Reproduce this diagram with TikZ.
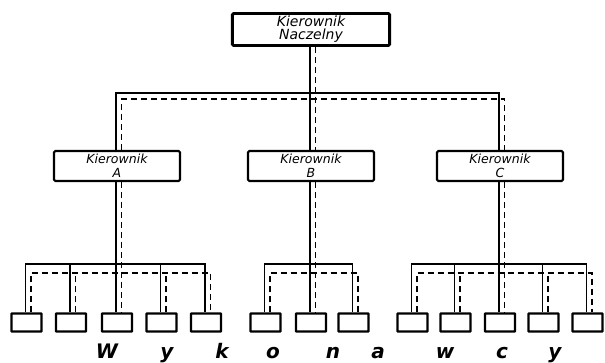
\documentclass[tikz,border=0pt]{standalone}
\usepackage{fontspec}
\newfontfamily\handfont{DejaVu Sans}
\usetikzlibrary{positioning, calc}
\tikzset{
  chief/.style={draw, line width=2.2pt, rounded corners=1pt, minimum width=118pt, minimum height=24pt, inner sep=0pt, align=center, font=\handfont\itshape\fontsize{10.5}{9.8}\selectfont},
  head/.style={draw, line width=1.6pt, rounded corners=1pt, minimum width=94.5pt, minimum height=22.5pt, inner sep=0pt, align=center, font=\handfont\itshape\fontsize{9.4}{10.3}\selectfont},
  worker/.style={draw, line width=1.8pt, rounded corners=0.5pt, minimum width=22.5pt, minimum height=13.5pt, inner sep=0pt},
  link/.style={line width=1.1pt},
  dlink/.style={line width=1.1pt, dash pattern=on 4.5pt off 3pt},
  letter/.style={font=\handfont\itshape\bfseries\fontsize{15}{15}\selectfont, inner sep=0pt, anchor=base}
}
\begin{document}
\begin{tikzpicture}[x=0.75pt, y=-0.75pt]
  \useasboundingbox (0,0) rectangle (605,362);

  % Managers
  \node[chief] (naczelny) at (311,29.5) {Kierownik\\Naczelny};
  \node[head] (kierA) at (117,166) {Kierownik\\A};
  \node[head] (kierB) at (311,166) {Kierownik\\B};
  \node[head] (kierC) at (500,166) {Kierownik\\C};

  % Workers
  \foreach \n/\x in {wA1/26.5, wA2/71, wA3/117, wA4/161.5, wA5/206,
                     wB1/265.5, wB2/311, wB3/353.5,
                     wC1/412.5, wC2/455.5, wC3/500, wC4/543.5, wC5/587.5}
    \node[worker] (\n) at (\x,322.5) {};

  % Bus levels
  \coordinate (topS) at (0,93);
  \coordinate (topD) at (0,99);
  \coordinate (busS) at (0,264);
  \coordinate (busD) at (0,273);

  % Top level
  \draw[link] ($(naczelny.south)+(-1,0)$) -- ($(kierB.north)+(-1,0)$);
  \draw[dlink] ($(naczelny.south)+(4.5,0)$) -- ($(kierB.north)+(4.5,0)$);
  \draw[link] ($(kierA.north)+(-1,0)$) |- ($(kierC.north |- topS)+(-1,0)$) -- ($(kierC.north)+(-1,0)$);
  \draw[dlink] ($(kierA.north)+(4.5,0)$) |- ($(kierC.north |- topD)+(4.5,0)$) -- ($(kierC.north)+(4.5,0)$);

  % Lower level
  \foreach \g/\fst/\ctr/\lst in {A/wA1/wA3/wA5, B/wB1/wB2/wB3, C/wC1/wC3/wC5} {
    \draw[link] ($(kier\g.south)+(-1,0)$) -- ($(\ctr.north)+(-1,0)$);
    \draw[dlink] ($(kier\g.south)+(4.5,0)$) -- ($(\ctr.north)+(4.5,0)$);
    \draw[link] ($(\fst.north)+(-1,0)$) |- ($(\lst.north |- busS)+(-1,0)$) -- ($(\lst.north)+(-1,0)$);
    \draw[dlink] ($(\fst.north)+(4.5,0)$) |- ($(\lst.north |- busD)+(4.5,0)$) -- ($(\lst.north)+(4.5,0)$);
  }
  \foreach \b in {wA2, wA4, wC2, wC4} {
    \draw[link] ($(\b.north)+(-1,0)$) -- ($(\b.north |- busS)+(-1,0)$);
    \draw[dlink] ($(\b.north)+(4.5,0)$) -- ($(\b.north |- busD)+(4.5,0)$);
  }

  % Caption letters
  \foreach \n/\x/\t in {l1/107/W, l2/167/y, l3/222/k, l4/273/o, l5/333/n,
                        l6/378/a, l7/445/w, l8/502/c, l9/555/y}
    \node[letter] (\n) at (\x,358) {\t};
\end{tikzpicture}
\end{document}
